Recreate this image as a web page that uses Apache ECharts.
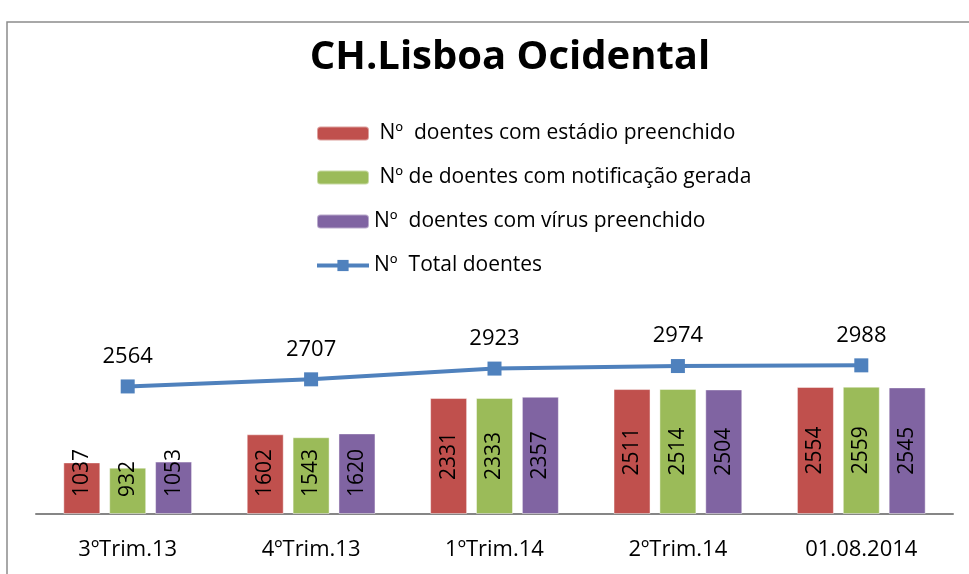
<!DOCTYPE html>
<html>
<head>
<meta charset="utf-8">
<script src="https://cdn.jsdelivr.net/npm/echarts@6/dist/echarts.min.js"></script>
<style>
  html, body { margin: 0; padding: 0; background: #fff; }
  #chart { width: 969px; height: 574px; }
</style>
</head>
<body>
<div id="chart"></div>
<script>
  var categories = ['3ºTrim.13', '4ºTrim.13', '1ºTrim.14', '2ºTrim.14', '01.08.2014'];
  var estadio = [1037, 1602, 2331, 2511, 2554];
  var notificacao = [932, 1543, 2333, 2514, 2559];
  var virus = [1053, 1620, 2357, 2504, 2545];
  var total = [2564, 2707, 2923, 2974, 2988];
  var names = [' Nº  doentes com estádio preenchido', ' Nº de doentes com notificação gerada', 'Nº  doentes com vírus preenchido', 'Nº  Total doentes'];

  var font = 'Open Sans';

  // short bars keep the number near the bottom, tall ones get it centred
  function barData(arr) {
    return arr.map(function (v) {
      if (v < 1800) {
        return { value: v, label: { position: 'insideBottom', distance: 17, align: 'left', verticalAlign: 'middle' } };
      }
      return v;
    });
  }

  var barLabel = {
    show: true,
    position: 'inside',
    rotate: 90,
    color: '#000',
    fontFamily: font,
    fontSize: 21
  };

  function barSeries(name, data, color) {
    return {
      name: name,
      type: 'bar',
      barWidth: 37,
      barGap: '24%',
      itemStyle: { color: color, borderColor: 'rgba(255,255,255,0.45)', borderWidth: 1 },
      label: barLabel,
      data: barData(data)
    };
  }

  var chart = echarts.init(document.getElementById('chart'));
  chart.setOption({
    animation: false,
    title: {
      text: 'CH.Lisboa Ocidental',
      left: 505,
      textAlign: 'center',
      top: 33,
      textStyle: { fontFamily: font, fontWeight: 'bold', fontSize: 40, color: '#000' }
    },
    legend: {
      orient: 'vertical',
      left: 310,
      top: 118,
      itemWidth: 52,
      itemHeight: 14,
      itemGap: 23,
      textStyle: { fontFamily: font, fontSize: 21, color: '#000' },
      data: [names[0], names[1], names[2], { name: names[3], lineStyle: { width: 4 } }]
    },
    graphic: [{
      type: 'rect',
      shape: { x: 7, y: 22, width: 1000, height: 600 },
      style: { fill: 'none', stroke: '#8c8c8c', lineWidth: 1.5 },
      silent: true
    }],
    grid: { left: 36, right: 16, top: 315, bottom: 60 },
    xAxis: {
      type: 'category',
      data: categories,
      axisLine: { lineStyle: { color: '#868686', width: 2 } },
      axisTick: { show: false },
      axisLabel: { color: '#000', fontFamily: font, fontSize: 22, margin: 25 }
    },
    yAxis: {
      type: 'value',
      min: 0,
      max: 4000,
      show: false
    },
    series: [
      barSeries(names[0], estadio, '#C0504D'),
      barSeries(names[1], notificacao, '#9BBB59'),
      barSeries(names[2], virus, '#8064A2'),
      {
        name: names[3],
        type: 'line',
        data: total,
        symbol: 'rect',
        symbolSize: 14,
        lineStyle: { color: '#4F81BD', width: 4 },
        itemStyle: { color: '#4F81BD' },
        label: { show: true, position: 'top', distance: 12, color: '#000', fontFamily: font, fontSize: 22 },
        z: 5
      }
    ]
  });
</script>
</body>
</html>
